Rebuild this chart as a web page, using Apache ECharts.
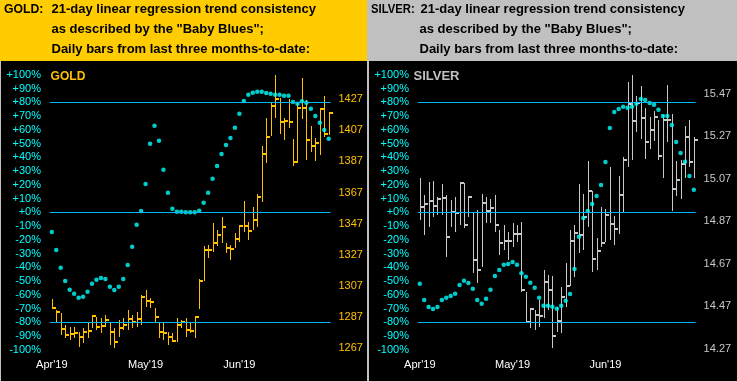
<!DOCTYPE html>
<html><head><meta charset="utf-8">
<script src="https://cdn.jsdelivr.net/npm/echarts@6/dist/echarts.min.js"></script>
<style>html,body{margin:0;padding:0;background:#C0C0C0;}#c{width:737px;height:381px;}</style>
</head><body><div id="c"></div>
<script>
// ---- data ----
const monthLabels = ["Apr'19", "May'19", "Jun'19"];
const monthIndex = [0, 21, 42];
const pctTicks = [-100,-90,-80,-70,-60,-50,-40,-30,-20,-10,0,10,20,30,40,50,60,70,80,90,100];
const goldPriceTicks = [1267, 1287, 1307, 1327, 1347, 1367, 1387, 1407, 1427];
const silverPriceTicks = [14.27, 14.47, 14.67, 14.87, 15.07, 15.27, 15.47];
const bandLevels = [80, 0, -80];

const goldBlues = [-14.3,-27.4,-40.3,-50,-56.3,-59.2,-62.1,-61.4,-57.7,-51.9,-49,-47.8,-48.5,-54.1,-56.5,-54.1,-48.5,-38.3,-25,-9,1,20.6,49.9,63,52,31,14.3,2.6,0.4,0.4,0,0,0,1.2,7,14.3,24.4,33.7,42.4,49,54,61.5,71.7,81,85.5,87,87.7,87.7,86.8,86.3,85.5,85.5,84.8,84.8,80.2,79,80.7,79.7,75.3,70,65.2,59.9,53.5];
const goldHigh = [1298.6,1291.6,1289.5,1282,1280.9,1280.9,1277.7,1279.8,1283,1288.4,1287.3,1286.3,1288.4,1283,1279.8,1285.2,1286.3,1291.6,1288.4,1290.5,1301.2,1304.4,1299.1,1292.7,1284.1,1283,1277.7,1276.6,1286.3,1285.2,1286.3,1284.1,1287.3,1311.3,1332.7,1333.3,1347.6,1342.9,1351.5,1334.8,1333.3,1341.2,1346.1,1361.5,1348,1357.9,1365.8,1396.8,1414.6,1424.2,1442.4,1427.5,1414.6,1426.8,1401.3,1424.2,1440.3,1426.4,1409.7,1401.8,1421,1428.9,1418.9];
const goldLow = [1292.7,1283,1275.5,1273.4,1272.3,1273.4,1268,1270.2,1273.4,1279.8,1278.7,1276.6,1280.9,1269.1,1267,1274.4,1278.7,1278.7,1279.8,1280.9,1282,1293.7,1292.7,1284.1,1273.4,1272.3,1269.1,1271.2,1271.2,1279.8,1274.4,1276.6,1273.4,1292,1310.2,1324.8,1329,1332.7,1334.4,1328.4,1323.7,1331.2,1335.4,1341.8,1336.5,1343,1344.7,1361.1,1385.7,1403.3,1415,1404.5,1400.7,1408.2,1384,1386.1,1414,1387.9,1393.2,1387.4,1391.1,1402.8,1403.9];
const goldClose = [1292.7,1290.5,1279.4,1275.5,1276.2,1276.6,1274.1,1277.5,1278.3,1287.7,1280.9,1281.3,1285.2,1277.7,1271.2,1279.8,1282,1285.8,1284.1,1285.6,1300.1,1297.4,1296.9,1286.9,1277.3,1276.6,1274.4,1271.9,1282,1284.1,1278.7,1278.3,1287.3,1310.2,1329.9,1329.9,1334.4,1339.7,1344.7,1331.6,1330.5,1337,1345.7,1345.7,1342.5,1349.3,1364,1391.7,1402.8,1422.7,1426.8,1412,1412.7,1412.4,1386.8,1421.4,1421.4,1400.7,1396.8,1399,1420.6,1404.5,1417.8];

const silverBlues = [-51.9,-63.8,-68.9,-70.3,-68.9,-63.8,-62.1,-60.9,-59.2,-52.9,-49.7,-51.4,-55.6,-63.8,-66.5,-62.8,-56.3,-46.3,-42,-38.1,-37.6,-36.1,-38.1,-44.4,-46.8,-51.2,-54.8,-62.1,-67.9,-67.9,-68.7,-70.1,-67.9,-64.3,-59.4,-41.2,-17.7,-4.1,1,6,11.9,19.9,36.6,61.3,72.9,75.1,76.8,76.1,76.8,79,82.4,81.7,79.5,78.3,74.6,70,70,63.5,51.1,43.1,36.8,26.4,16.4];
const silverHigh = [15.072,14.994,15.056,15.06,14.986,15.046,14.994,14.97,14.986,15.049,15.049,14.986,14.908,14.923,14.997,14.986,14.975,14.994,14.829,14.853,14.821,14.864,14.853,14.868,14.539,14.461,14.453,14.5,14.641,14.618,14.613,14.469,14.563,14.673,14.829,14.853,15.046,14.997,15.154,15.013,14.79,14.939,14.928,15.127,14.897,15.083,15.171,15.524,15.558,15.459,15.506,15.401,15.362,15.389,15.346,15.37,15.511,15.373,15.154,15.158,15.318,15.346,15.268];
const silverLow = [14.876,14.806,14.845,14.889,14.9,14.9,14.704,14.845,14.821,14.853,14.837,14.892,14.626,14.579,14.657,14.861,14.861,14.821,14.712,14.735,14.688,14.751,14.774,14.539,14.391,14.367,14.359,14.375,14.414,14.453,14.273,14.351,14.347,14.469,14.566,14.61,14.72,14.735,14.845,14.633,14.641,14.751,14.774,14.782,14.759,14.81,14.911,15.127,15.158,15.291,15.257,15.164,15.209,15.249,15.158,15.075,15.244,14.92,14.989,14.974,15.075,15.127,15.075];
const silverClose = [14.939,14.95,14.964,14.942,14.974,14.981,14.798,14.915,14.908,15.049,14.853,14.986,14.688,14.641,14.955,14.92,14.931,14.851,14.767,14.779,14.779,14.81,14.81,14.547,14.398,14.457,14.428,14.425,14.586,14.547,14.331,14.403,14.513,14.566,14.779,14.817,14.804,14.889,15.014,14.692,14.732,14.767,14.9,14.856,14.833,14.995,15.158,15.42,15.342,15.428,15.354,15.244,15.299,15.362,15.179,15.346,15.346,15.021,15.063,15.141,15.268,15.148,15.252];

// ---- chart ----
const FONT = "'Liberation Sans', Arial, sans-serif";
const GOLD = '#FFC000', SILV = '#C8C8C8', CYAN = '#00FFFF', LINE = '#00B8F8';

function pctFmt(v){ return (v >= 0 ? '+' : '') + v + '%'; }

function barSeries(gi, high, low, close, color){
  return {
    type: 'custom', xAxisIndex: gi, yAxisIndex: gi*2+1, z: 3,
    data: high.map((h,i)=>[i, h, low[i], close[i]]),
    encode: {x: 0, y: [1,2,3]},
    renderItem: function(params, api){
      const pH = api.coord([api.value(0), api.value(1)]);
      const pL = api.coord([api.value(0), api.value(2)]);
      const pC = api.coord([api.value(0), api.value(3)]);
      const x = Math.round(pH[0]) + 0.5;
      return {type:'group', children:[
        {type:'line', shape:{x1:x, y1:Math.round(pH[1]), x2:x, y2:Math.round(pL[1])}, style:{stroke:color, lineWidth:1}},
        {type:'rect', shape:{x:x-0.5, y:Math.round(pC[1])-1, width:4, height:2}, style:{fill:color}}
      ]};
    }
  };
}
function dotSeries(gi, vals){
  return {
    type:'scatter', xAxisIndex: gi, yAxisIndex: gi*2, z: 4,
    symbol:'circle', symbolSize: 4.5, itemStyle:{color: CYAN},
    data: vals.map((v,i)=>[i, v]),
    markLine: {silent:true, symbol:['none','none'], label:{show:false},
      lineStyle:{color: LINE, width:1, type:'solid'},
      data: bandLevels.map(v=>({yAxis: v}))}
  };
}
function xAx(gi){
  return {type:'value', gridIndex: gi, min:-0.4, max:62.4,
    axisLine:{show:false}, axisTick:{show:false}, splitLine:{show:false},
    axisLabel:{customValues: monthIndex, formatter: v => monthLabels[monthIndex.indexOf(v)] || '',
      color:'#FFFFFF', fontSize:11, fontFamily: FONT, margin: 10}};
}
function pctAx(gi){
  return {type:'value', gridIndex: gi, position:'left', min:-100, max:100,
    axisLine:{show:false}, axisTick:{show:false}, splitLine:{show:false},
    axisLabel:{customValues: pctTicks, formatter: pctFmt, color: CYAN, fontSize:11, fontFamily: FONT, margin: 9}};
}
function priceAx(gi, mn, mx, ticks, color, dec){
  return {type:'value', gridIndex: gi, position:'right', min: mn, max: mx,
    axisLine:{show:false}, axisTick:{show:false}, splitLine:{show:false},
    axisLabel:{customValues: ticks, formatter: v => v.toFixed(dec), color: color, fontSize:11, fontFamily: FONT, margin: 8}};
}
function txt(x, y, s, color, size, sx){
  return {type:'text', x:x, y:y, z:10, scaleX: sx || 1,
    style:{text:s, fill:color, font:'bold '+size+'px '+FONT, verticalAlign:'middle', align:'left'}};
}

const chart = echarts.init(document.getElementById('c'), null, {renderer:'canvas'});
chart.setOption({
  animation: false,
  backgroundColor: 'transparent',
  grid: [
    {left: 50, top: 74.8, width: 280.5, height: 275},
    {left: 418, top: 74.8, width: 277.6, height: 275}
  ],
  xAxis: [xAx(0), xAx(1)],
  yAxis: [
    pctAx(0), priceAx(0, 1266.04, 1442.54, goldPriceTicks, GOLD, 0),
    pctAx(1), priceAx(1, 14.266, 15.559, silverPriceTicks, SILV, 2)
  ],
  graphic: [
    {type:'rect', z:-1, shape:{x:0, y:0, width:367, height:61}, style:{fill:'#FFCC00'}},
    {type:'rect', z:-1, shape:{x:1, y:61, width:366, height:320}, style:{fill:'#000000'}},
    {type:'rect', z:-1, shape:{x:369, y:0, width:368, height:61}, style:{fill:'#C0C0C0'}},
    {type:'rect', z:-1, shape:{x:369, y:61, width:368, height:320}, style:{fill:'#000000'}},
    txt(4, 9, 'GOLD:', '#000', 13, 0.94),
    txt(51.5, 9, '21-day linear regression trend consistency', '#000', 13),
    txt(51.5, 29.5, 'as described by the "Baby Blues";', '#000', 13),
    txt(51.5, 49.5, 'Daily bars from last three months-to-date:', '#000', 13),
    txt(371, 9, 'SILVER:', '#000', 13, 0.87),
    txt(420.5, 9, '21-day linear regression trend consistency', '#000', 13),
    txt(419.5, 29.5, 'as described by the "Baby Blues";', '#000', 13),
    txt(419.5, 49.5, 'Daily bars from last three months-to-date:', '#000', 13),
    txt(50.5, 76, 'GOLD', '#FFC000', 13, 0.93),
    txt(413.5, 76, 'SILVER', '#C0C0C0', 13)
  ],
  series: [
    barSeries(0, goldHigh, goldLow, goldClose, GOLD),
    dotSeries(0, goldBlues),
    barSeries(1, silverHigh, silverLow, silverClose, SILV),
    dotSeries(1, silverBlues)
  ]
});
</script></body></html>
